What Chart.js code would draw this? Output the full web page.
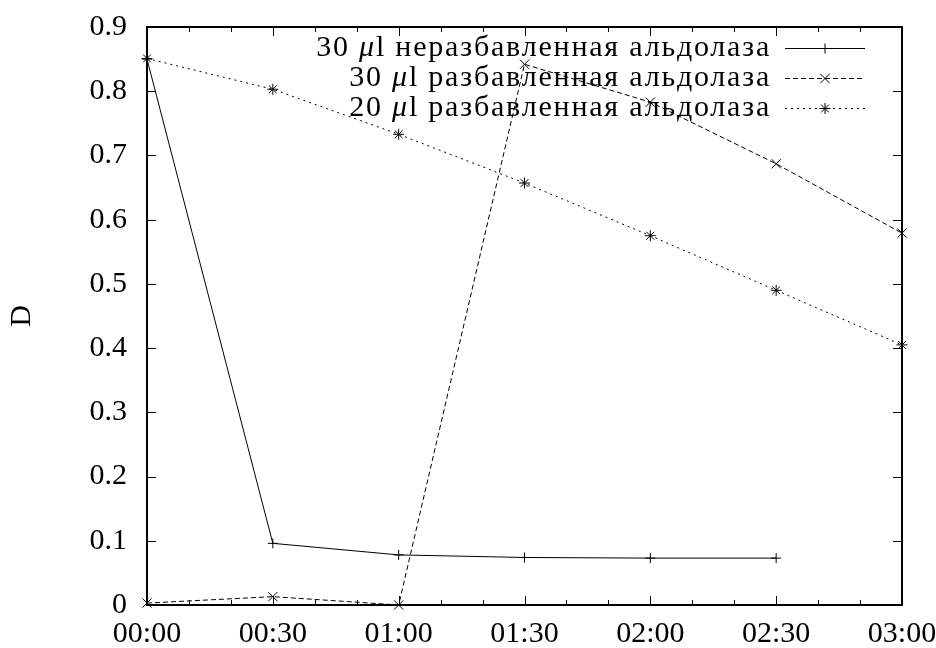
<!DOCTYPE html>
<html>
<head>
<meta charset="utf-8">
<script src="https://cdn.jsdelivr.net/npm/chart.js@4/dist/chart.umd.min.js"></script>
<style>
  html, body { margin: 0; padding: 0; background: #ffffff; }
  #wrap { width: 936px; height: 648px; }
</style>
</head>
<body>
<div id="wrap"><canvas id="c" width="936" height="648"></canvas></div>
<script>
// Time of measurement, minutes from start
const timeMinutes = [0, 30, 60, 90, 120, 150, 180];

// Optical density D for each sample
const undiluted30 = [0.850, 0.096, 0.078, 0.074, 0.073, 0.073, null];
const diluted30   = [0.003, 0.013, 0.000, 0.842, 0.783, 0.687, 0.579];
const diluted20   = [0.851, 0.803, 0.733, 0.657, 0.575, 0.490, 0.405];

// Legend text: volume, unit, description
const seriesVolumes = ['30', '30', '20'];
const seriesNames = ['неразбавленная альдолаза', 'разбавленная альдолаза', 'разбавленная альдолаза'];

// Axis ranges and ticks
const xMajorStep = 30;
const xMinorStep = 10;
const yTickValues = [0, 0.1, 0.2, 0.3, 0.4, 0.5, 0.6, 0.7, 0.8, 0.9];
const yAxisTitle = 'D';

const FONT = 'Liberation Serif';
const FONT_SIZE = 30;

function fmtTime(m) {
  const h = Math.floor(m / 60), mm = Math.round(m % 60);
  return String(h).padStart(2, '0') + ':' + String(mm).padStart(2, '0');
}

function toPoints(values) {
  const pts = [];
  values.forEach((v, i) => { if (v !== null) pts.push({ x: timeMinutes[i], y: v }); });
  return pts;
}

const styles = [
  { dash: [], point: 'cross', radius: 5 },
  { dash: [5, 3], point: 'crossRot', radius: 6.5 },
  { dash: [2, 4], point: 'star', radius: 5.5 }
];
const seriesValues = [undiluted30, diluted30, diluted20];

const datasets = seriesValues.map((vals, i) => ({
  label: seriesVolumes[i] + ' μl ' + seriesNames[i],
  data: toPoints(vals),
  borderColor: '#000',
  backgroundColor: '#000',
  borderWidth: 1,
  borderDash: styles[i].dash,
  pointStyle: styles[i].point,
  pointRadius: styles[i].radius,
  pointBorderWidth: 1,
  pointBorderColor: '#000',
  tension: 0,
  clip: false
}));

// Box frame, inward ticks and a gnuplot-style key
const framePlugin = {
  id: 'frame',
  beforeDatasetsDraw(chart) {
    const { ctx, chartArea: a, scales: { x, y } } = chart;
    ctx.save();
    ctx.strokeStyle = '#000';
    ctx.lineWidth = 1;
    ctx.beginPath();
    yTickValues.forEach(v => {
      const py = Math.round(y.getPixelForValue(v)) + 0.5;
      ctx.moveTo(a.left, py); ctx.lineTo(a.left + 9, py);
      ctx.moveTo(a.right, py); ctx.lineTo(a.right - 9, py);
    });
    for (let m = x.min; m <= x.max + 0.001; m += xMinorStep) {
      const px = Math.round(x.getPixelForValue(m)) + 0.5;
      const len = (Math.round(m) % xMajorStep === 0) ? 9 : 5;
      ctx.moveTo(px, a.bottom); ctx.lineTo(px, a.bottom - len);
      ctx.moveTo(px, a.top); ctx.lineTo(px, a.top + len);
    }
    ctx.stroke();
    ctx.lineWidth = 2;
    ctx.strokeRect(a.left, a.top, a.right - a.left, a.bottom - a.top);
    ctx.restore();
  },
  afterDraw(chart) {
    const { ctx } = chart;
    const textRight = 771;
    const lineX0 = 785, lineX1 = 865;
    const rowY = [48, 78, 108];
    ctx.save();
    ctx.fillStyle = '#000';
    ctx.textBaseline = 'middle';
    ctx.textAlign = 'left';
    ctx.letterSpacing = '1.8px';
    chart.data.datasets.forEach((ds, i) => {
      const parts = [
        { t: seriesVolumes[i] + ' ', f: FONT_SIZE + 'px "' + FONT + '"' },
        { t: 'μ', f: 'italic ' + FONT_SIZE + 'px "' + FONT + '"' },
        { t: 'l ' + seriesNames[i], f: FONT_SIZE + 'px "' + FONT + '"' }
      ];
      let total = 0;
      parts.forEach(p => { ctx.font = p.f; p.w = ctx.measureText(p.t).width; total += p.w; });
      let px = textRight - total;
      parts.forEach(p => { ctx.font = p.f; ctx.fillText(p.t, px, rowY[i]); px += p.w; });

      ctx.strokeStyle = '#000';
      ctx.lineWidth = 1;
      ctx.setLineDash(styles[i].dash);
      ctx.beginPath();
      ctx.moveTo(lineX0, rowY[i] + 0.5);
      ctx.lineTo(lineX1, rowY[i] + 0.5);
      ctx.stroke();
      ctx.setLineDash([]);
      Chart.helpers.drawPoint(ctx, {
        pointStyle: styles[i].point,
        radius: styles[i].radius,
        borderWidth: 1
      }, (lineX0 + lineX1) / 2, rowY[i] + 0.5);
    });
    ctx.restore();
  }
};

new Chart(document.getElementById('c'), {
  type: 'line',
  data: { datasets },
  options: {
    responsive: false,
    animation: false,
    devicePixelRatio: 1,
    layout: { padding: { top: 27, right: 34, left: 0, bottom: 0 } },
    plugins: { legend: { display: false }, tooltip: { enabled: false } },
    scales: {
      x: {
        type: 'linear',
        min: timeMinutes[0],
        max: timeMinutes[timeMinutes.length - 1],
        grid: { display: false },
        border: { display: false },
        ticks: {
          stepSize: xMajorStep,
          color: '#000',
          padding: 3,
          maxRotation: 0,
          font: { family: FONT, size: FONT_SIZE },
          callback: v => fmtTime(v)
        },
        afterFit(s) { s.height = 43; s.paddingLeft = 0; s.paddingRight = 0; }
      },
      y: {
        min: yTickValues[0],
        max: yTickValues[yTickValues.length - 1],
        grid: { display: false },
        border: { display: false },
        ticks: {
          stepSize: 0.1,
          color: '#000',
          padding: 12,
          font: { family: FONT, size: FONT_SIZE },
          callback: v => (Math.abs(v) < 1e-9 ? '0' : v.toFixed(1))
        },
        title: {
          display: true,
          text: yAxisTitle,
          color: '#000',
          font: { family: FONT, size: FONT_SIZE },
          padding: { top: 4, bottom: 0 }
        },
        afterFit(s) { s.width = 147; s.paddingTop = 0; s.paddingBottom = 0; }
      }
    }
  },
  plugins: [framePlugin]
});
</script>
</body>
</html>
